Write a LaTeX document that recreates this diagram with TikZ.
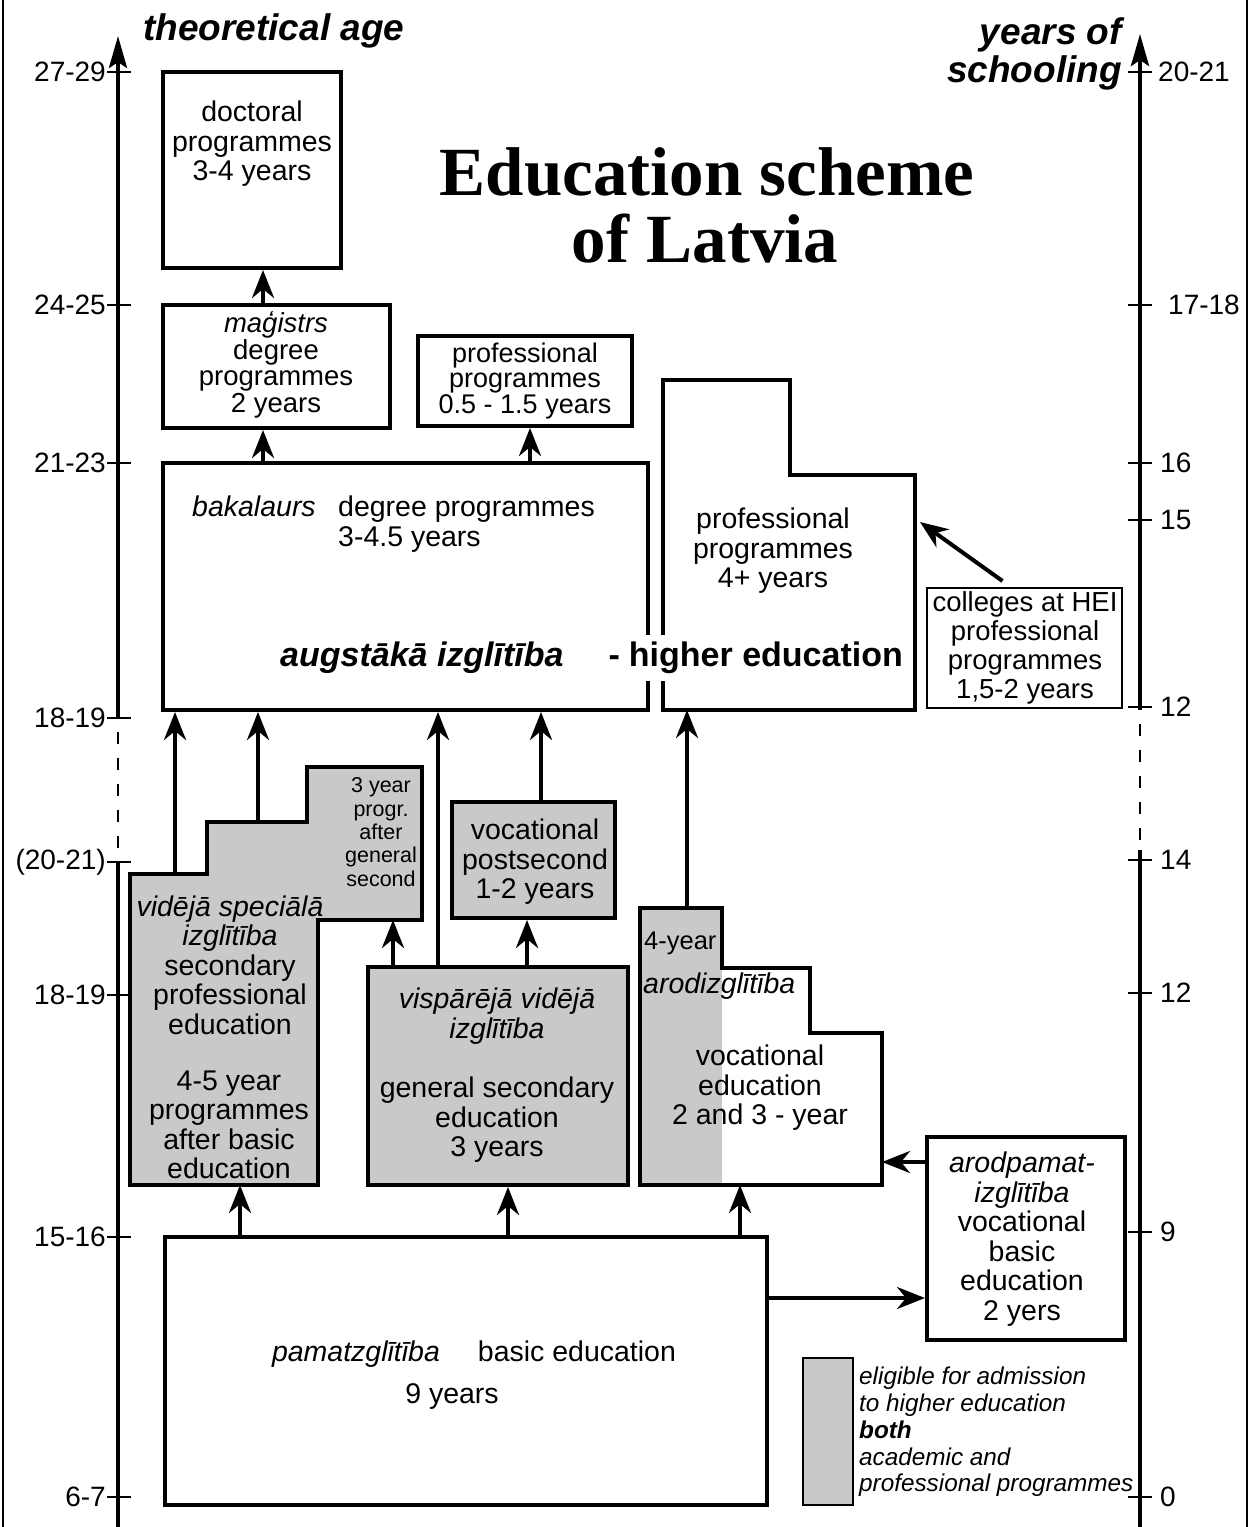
\documentclass[tikz,border=0pt]{standalone}
\usepackage{fontspec}
\setmainfont{Liberation Sans}
\newfontfamily\titlefont{Liberation Serif}
\usetikzlibrary{arrows.meta,fit}
\newcommand\myfs[2]{\fontsize{#1}{#2}\selectfont}
\begin{document}
\begin{tikzpicture}[x=1pt,y=-1pt,
  box/.style={draw, line width=4pt, inner sep=0pt},
  thinbox/.style={draw, line width=2pt, inner sep=0pt},
  shade/.style={fill=black!21},
  txt/.style={inner sep=0pt, align=center, font=\myfs{28.5}{29.5}},
  small/.style={inner sep=0pt, align=center, font=\myfs{21.5}{23.3}},
  axlab/.style={inner sep=0pt, font=\myfs{28}{30}},
  axtitle/.style={inner sep=0pt, font=\myfs{37}{38}\bfseries\itshape},
  arr/.style={line width=4pt, -{Stealth[length=28pt,width=22pt,inset=9pt]}},
  axisline/.style={line width=4pt},
  tick/.style={line width=2pt},
  dashaxis/.style={line width=2.5pt, dash pattern=on 12pt off 14pt},
]
\useasboundingbox (0,0) rectangle (1250,1527);

% scan border lines
\draw[line width=1.5pt] (3,0) -- (3,1527);
\draw[line width=1.5pt] (1247,0) -- (1247,1527);

% ---------- left axis ----------
\coordinate (LAtop) at (118,36);
\coordinate (LAbr1) at (118,718);
\coordinate (LAbr2) at (118,862);
\coordinate (LAbot) at (118,1527);
\draw[axisline, -{Stealth[length=32pt,width=18pt,inset=6pt]}] (LAbr1) -- (LAtop);
\draw[dashaxis] (118,732) -- (118,855);
\draw[axisline] (LAbr2) -- (LAbot);
\foreach \yy/\lab/\nm in {72/27-29/la1, 305/24-25/la2, 463/21-23/la3, 718/18-19/la4, 862/(20-21)/la5, 995/18-19/la6, 1237/15-16/la7, 1497/6-7/la8}{
  \draw[tick] (107,\yy) -- (131,\yy);
  \node[axlab, anchor=east] (\nm) at (106,\yy) {\lab};
}
\node[axtitle, anchor=west] (ageT) at (143,31) {theoretical age};

% ---------- right axis ----------
\coordinate (RAtop) at (1140,34);
\coordinate (RAbr1) at (1140,710);
\coordinate (RAbr2) at (1140,850);
\coordinate (RAbot) at (1140,1527);
\draw[axisline, -{Stealth[length=32pt,width=18pt,inset=6pt]}] (RAbr1) -- (RAtop);
\draw[dashaxis] (1140,724) -- (1140,845);
\draw[axisline] (RAbr2) -- (RAbot);
\foreach \yy/\lab/\nm/\xx in {72/20-21/ra1/1158, 305/17-18/ra2/1168, 463/16/ra3/1160, 520/15/ra4/1160, 707/12/ra5/1160, 860/14/ra6/1160, 993/12/ra7/1160, 1232/9/ra8/1160, 1497/0/ra9/1160}{
  \draw[tick] (1128,\yy) -- (1152,\yy);
  \node[axlab, anchor=west] (\nm) at (\xx,\yy) {\lab};
}
\node[axtitle, anchor=east, align=right] (yosT) at (1122,54) {years of\\schooling};

% ---------- title ----------
\node[inner sep=0pt, anchor=base, font=\titlefont\myfs{69}{72}\bfseries] (title1) at (707,195) {Education scheme};
\node[inner sep=0pt, anchor=base, font=\titlefont\myfs{69}{72}\bfseries] (title2) at (705,262) {of Latvia};

% ---------- upper boxes ----------
\node[box, fit={(163,72) (341,268)}] (doc) {};
\node[txt] (docT) at (252,144) {doctoral\\programmes\\3-4 years};

\node[box, fit={(163,305) (390,428)}] (mag) {};
\node[txt, font=\myfs{27.5}{26.5}] (magT) at (276,365) {\textit{maģistrs}\\degree\\programmes\\2 years};

\node[box, fit={(418,336) (632,426)}] (pp) {};
\node[txt, font=\myfs{27}{25.5}] (ppT) at (525,381) {professional\\programmes\\0.5 - 1.5 years};

\node[box, fit={(163,463) (648,710)}] (bak) {};
\node[txt, align=left, anchor=north west] (bakT) at (192,496) {\makebox[146pt][l]{\textit{bakalaurs}}degree programmes\\\hspace*{146pt}3-4.5 years};

\coordinate (p4side) at (920,522);
\coordinate (p4bot) at (687,710);
\draw[box] (663,380) -- (790,380) -- (790,475) -- (915,475) -- (915,710) -- (663,710) -- cycle;
\node[txt] (p4T) at (773,551) {professional\\programmes\\4+ years};

\node[inner sep=0pt, fill=white, inner xsep=4pt, inner ysep=7pt, anchor=west, font=\myfs{34}{36}\bfseries] (hedu) at (276,658) {\textit{augstākā izglītība}\hspace{45pt}-\hspace{9pt}higher education};

\node[thinbox, fit={(927,588) (1122,708)}] (col) {};
\node[txt, font=\myfs{27.5}{29}] (colT) at (1025,648) {colleges at HEI\\professional\\programmes\\1,5-2 years};

% ---------- secondary level ----------
\coordinate (vssA) at (175,874);
\coordinate (vssB) at (258,822);
\coordinate (vssR) at (393,920);
\coordinate (vssbot) at (240,1185);
\draw[box, shade] (130,874) -- (207,874) -- (207,822) -- (307,822) -- (307,767) -- (422,767) -- (422,920) -- (318,920) -- (318,1185) -- (130,1185) -- cycle;
\node[small] (vss3T) at (381,832) {3 year\\progr.\\after\\general\\second};
\node[txt] (vssT1) at (230,965) {\textit{vidējā speciālā}\\\textit{izglītība}\\secondary\\professional\\education};
\node[txt] (vssT2) at (229,1125) {4-5 year\\programmes\\after basic\\education};

\node[box, shade, fit={(452,802) (615,918)}] (post) {};
\node[txt] (postT) at (535,862) {vocational\\postsecond\\1-2 years};

\node[box, shade, fit={(368,967) (628,1185)}] (gen) {};
\node[txt] (genT1) at (497,1016) {\textit{vispārējā vidējā}\\\textit{izglītība}};
\node[txt] (genT2) at (497,1120) {general secondary\\education\\3 years};

\coordinate (voc4top) at (687,908);
\coordinate (voc4right) at (882,1162);
\coordinate (voc4bot) at (740,1185);
\fill[black!21] (640,908) rectangle (722,1185);
\draw[box] (640,908) -- (722,908) -- (722,968) -- (810,968) -- (810,1033) -- (882,1033) -- (882,1185) -- (640,1185) -- cycle;
\node[txt, anchor=west, font=\myfs{25.5}{27}] (voc4T1) at (644,943) {4-year};
\node[txt, anchor=west] (voc4T2) at (643,986) {\textit{arodizglītība}};
\node[txt] (voc4T3) at (760,1088) {vocational\\education\\2 and 3 - year};

\node[box, fit={(927,1137) (1125,1340)}] (apm) {};
\node[txt] (apmT) at (1022,1239) {\textit{arodpamat-}\\\textit{izglītība}\\vocational\\basic\\education\\2 yers};

% ---------- basic ----------
\node[box, fit={(165,1237) (767,1505)}] (basic) {};
\node[txt] (basicT1) at (474,1354) {\textit{pamatzglītība}\hspace{38pt}basic education};
\node[txt] (basicT2) at (452,1396) {9 years};

% ---------- legend ----------
\node[draw, line width=1.5pt, fill=black!21, inner sep=0pt, fit={(803,1358) (853,1505)}] (leg) {};
\node[inner sep=0pt, align=left, anchor=west, font=\myfs{24.3}{26.75}\itshape] (legT) at (859,1432) {eligible for admission\\to higher education\\\textbf{both}\\academic and\\professional programmes};

% ---------- arrows ----------
\coordinate (c1) at (263,0);
\coordinate (c2) at (530,0);
\coordinate (c5) at (438,0);
\coordinate (c6) at (541,0);
\coordinate (c8) at (527,0);
\coordinate (c10) at (240,0);
\coordinate (c11) at (508,0);
\coordinate (h1) at (0,1298);

\draw[arr] (mag.north -| c1) -- (doc.south -| c1);
\draw[arr] (bak.north -| c1) -- (mag.south -| c1);
\draw[arr] (bak.north -| c2) -- (pp.south -| c2);
\draw[arr] (vssA) -- (bak.south -| vssA);
\draw[arr] (vssB) -- (bak.south -| vssB);
\draw[arr] (gen.north -| c5) -- (bak.south -| c5);
\draw[arr] (post.north -| c6) -- (bak.south -| c6);
\draw[arr] (gen.north -| vssR) -- (vssR);
\draw[arr] (gen.north -| c8) -- (post.south -| c8);
\draw[arr] (voc4top) -- (p4bot);
\draw[arr] (basic.north -| c10) -- (vssbot);
\draw[arr] (basic.north -| c11) -- (gen.south -| c11);
\draw[arr] (basic.north -| voc4bot) -- (voc4bot);
\draw[arr] (basic.east |- h1) -- (apm.west |- h1);
\draw[arr] (apm.west |- voc4right) -- (voc4right);
\draw[arr] ([xshift=-22pt,yshift=6pt]col.north) -- (p4side);
\end{tikzpicture}
\end{document}
